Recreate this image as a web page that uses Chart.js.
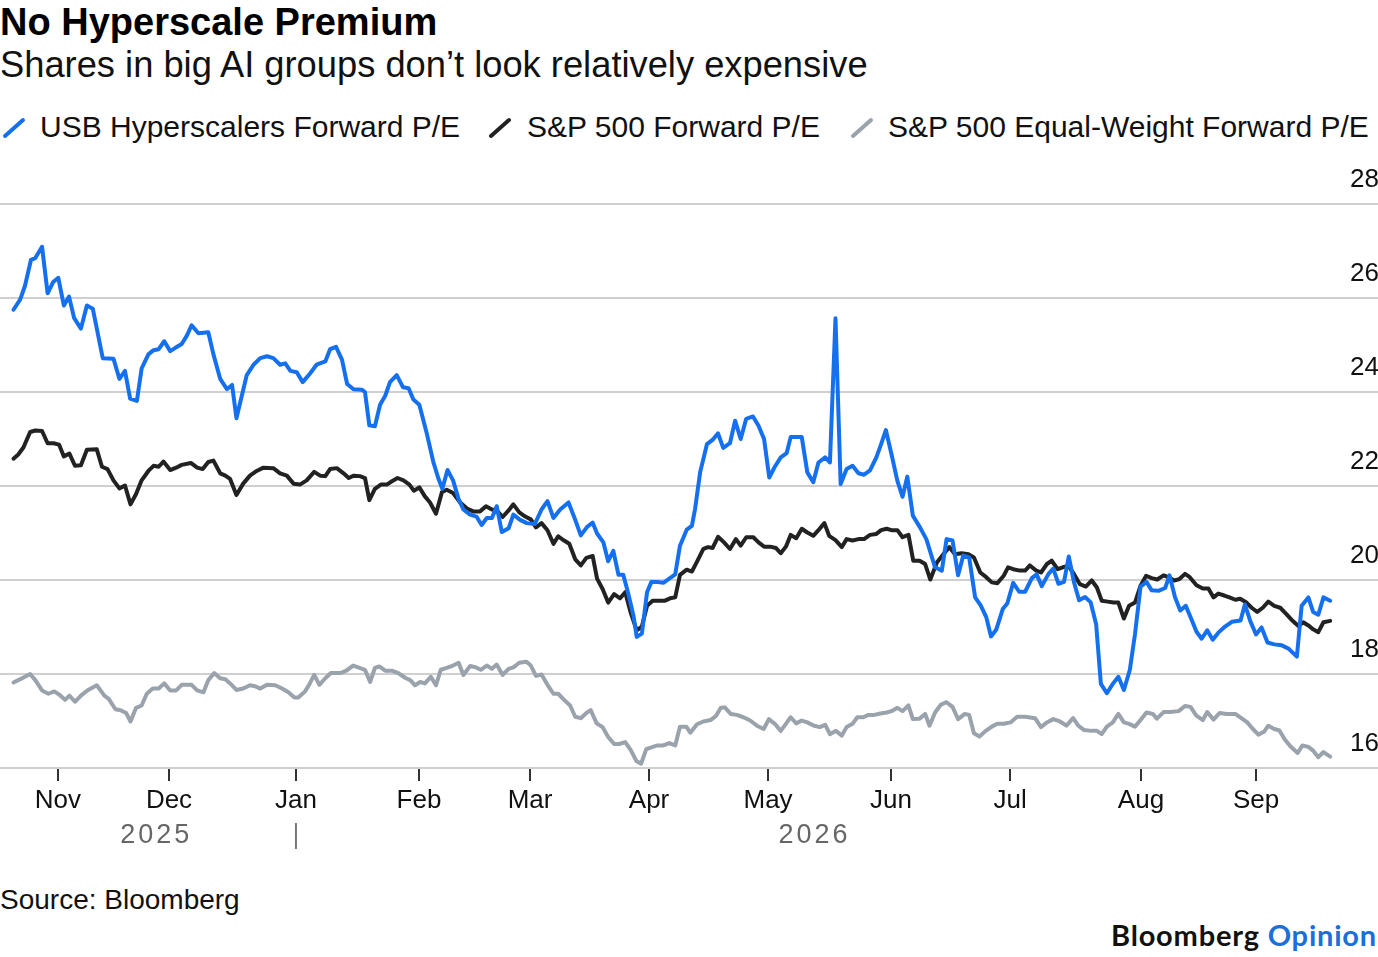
<!DOCTYPE html>
<html>
<head>
<meta charset="utf-8">
<script src="https://cdn.jsdelivr.net/npm/chart.js@4.4.1/dist/chart.umd.min.js"></script>
<style>
  html, body { margin: 0; padding: 0; background: #fff; }
  body { width: 1378px; height: 957px; position: relative; overflow: hidden; font-family: "Liberation Sans", Arial, sans-serif; color: #111; }
  .t { position: absolute; white-space: nowrap; }
  #title { left: 0; top: 3px; font-size: 38px; line-height: 38px; font-weight: 700; color: #000; }
  #subtitle { left: 0; top: 47px; font-size: 36.3px; line-height: 36px; color: #111; }
  .leg { position: absolute; top: 112px; font-size: 30px; line-height: 30px; color: #111; white-space: nowrap; }
  .icon { position: absolute; top: 117px; width: 24px; height: 22px; }
  #source { left: 0; top: 886px; font-size: 28px; line-height: 28px; color: #111; }
  #brand { right: 1px; top: 920px; font-family: Lato, "Liberation Sans", sans-serif; font-weight: 700; font-size: 29px; line-height: 29px; letter-spacing: 0.8px; color: #111; }
  #brand span { color: #1a6fdb; }
  canvas { position: absolute; left: 0; top: 0; }
</style>
</head>
<body>
<div id="title" class="t">No Hyperscale Premium</div>
<div id="subtitle" class="t">Shares in big AI groups don’t look relatively expensive</div>

<svg class="icon" style="left:2px" viewBox="0 0 24 22"><line x1="3" y1="19" x2="21" y2="3" stroke="#1570ef" stroke-width="4" stroke-linecap="round"/></svg>
<div class="leg" style="left:40px">USB Hyperscalers Forward P/E</div>
<svg class="icon" style="left:488px" viewBox="0 0 24 22"><line x1="3" y1="19" x2="21" y2="3" stroke="#222222" stroke-width="4" stroke-linecap="round"/></svg>
<div class="leg" style="left:527px">S&amp;P 500 Forward P/E</div>
<svg class="icon" style="left:850px" viewBox="0 0 24 22"><line x1="3" y1="19" x2="21" y2="3" stroke="#9aa2ac" stroke-width="4" stroke-linecap="round"/></svg>
<div class="leg" style="left:888px">S&amp;P 500 Equal-Weight Forward P/E</div>

<div id="source" class="t">Source: Bloomberg</div>
<div id="brand" class="t">Bloomberg <span>Opinion</span></div>

<canvas id="c" width="1378" height="957"></canvas>

<script>
// ---- Axis definitions (x = days since 1 Oct 2025; ticks at first trading day of each month) ----
const monthStarts = [33, 61, 93, 124, 152, 182, 212, 243, 273, 306, 335];
const monthLabels = ['Nov', 'Dec', 'Jan', 'Feb', 'Mar', 'Apr', 'May', 'Jun', 'Jul', 'Aug', 'Sep'];
const yearLabels = ['2025', '2026'];
const yearBreak = 93; // 2 Jan 2026, first trading day of the year
const yTickValues = [16, 18, 20, 22, 24, 26, 28];
const xRange = [18.4, 365.75];

// ---- USB Hyperscalers Forward P/E ----
const hyperDays = [21.8,23.5,24.7,26.2,27.3,29.0,30.4,31.8,33.1,34.5,35.8,37.1,38.8,40.3,41.8,44.3,47.0,48.5,49.9,51.2,
52.9,54.1,55.8,57.1,58.4,59.8,61.3,62.6,64.2,65.5,66.7,68.4,70.9,72.2,73.9,75.6,76.9,78.0,80.6,82.3,
84.0,85.7,87.3,89.0,90.3,91.6,93.2,94.7,96.5,98.2,100.4,101.6,103.1,104.6,105.9,107.5,109.6,110.4,111.5,112.9,
114.2,115.5,116.7,118.4,120.0,121.4,122.6,124.1,126.0,127.6,128.9,129.9,131.2,132.6,134.0,135.2,136.9,138.5,139.8,141.1,
142.4,143.6,144.9,146.6,147.8,149.5,151.2,153.2,154.9,156.4,157.9,159.6,161.7,163.4,164.8,166.4,167.8,168.9,170.5,171.7,
173.0,174.3,175.5,176.8,178.1,178.9,180.2,181.5,182.6,183.9,185.6,187.1,188.6,189.8,191.5,192.8,193.6,194.9,196.6,198.0,
199.4,200.7,202.4,203.7,205.1,206.5,208.2,209.6,211.0,212.3,213.7,215.2,216.7,217.7,220.5,221.9,223.4,224.7,226.4,227.6,
229.0,230.3,231.8,233.3,234.8,236.2,237.7,239.3,240.5,241.7,243.1,244.6,245.9,247.1,248.5,250.3,251.9,254.1,255.8,257.0,
258.5,259.9,261.2,262.7,264.2,265.6,267.0,268.2,269.5,271.2,272.3,273.8,275.3,276.8,278.5,279.7,281.0,282.7,283.9,285.2,
286.6,287.8,289.1,290.4,291.9,293.3,294.7,295.9,297.4,298.9,300.3,301.7,303.2,304.5,305.9,307.4,308.7,310.4,312.1,313.2,
314.6,315.9,317.3,318.8,320.0,321.3,322.7,324.1,325.5,327.2,328.9,331.1,332.2,333.5,335.0,336.4,337.9,339.6,341.5,343.2,
344.3,345.3,346.5,348.2,349.4,350.7,352.0,353.7];
const hyperPE = [25.75,25.97,26.26,26.81,26.85,27.09,26.10,26.34,26.43,25.84,26.03,25.57,25.35,25.84,25.77,24.72,24.71,24.28,24.45,23.86,
23.81,24.50,24.80,24.89,24.91,25.08,24.87,24.94,25.02,25.20,25.42,25.25,25.27,24.80,24.28,24.06,24.15,23.44,24.36,24.58,
24.72,24.76,24.72,24.58,24.61,24.45,24.42,24.21,24.39,24.58,24.65,24.91,24.96,24.69,24.17,24.06,24.05,24.00,23.29,23.27,
23.73,23.92,24.21,24.36,24.10,24.08,23.84,23.73,23.11,22.52,22.16,21.94,22.34,22.12,21.72,21.50,21.39,21.35,21.17,21.32,
21.32,21.57,21.02,21.10,21.39,21.28,21.21,21.19,21.50,21.68,21.32,21.50,21.65,21.28,20.95,21.13,21.22,20.99,20.80,20.40,
20.62,20.11,20.11,19.70,19.23,18.79,18.86,19.74,19.96,19.96,19.94,20.03,20.12,20.73,21.07,21.15,21.51,22.30,22.89,22.98,
23.12,22.81,22.91,23.39,23.00,23.43,23.48,23.28,23.00,22.18,22.41,22.61,22.70,23.04,23.04,22.29,22.08,22.50,22.61,22.50,
25.57,22.04,22.36,22.43,22.27,22.24,22.33,22.61,22.89,23.19,22.68,22.11,21.77,22.20,21.37,21.12,20.87,20.27,20.20,20.87,
20.84,20.10,20.52,20.48,19.63,19.46,19.21,18.80,18.94,19.39,19.50,19.94,19.75,19.75,20.04,20.12,19.87,20.13,20.24,19.92,
19.96,20.50,19.96,19.57,19.64,19.53,19.06,17.79,17.59,17.79,17.94,17.66,18.09,18.85,19.86,19.96,19.78,19.77,19.83,20.10,
19.63,19.35,19.45,19.15,18.90,18.75,18.93,18.73,18.88,19.01,19.11,19.14,19.48,19.14,18.84,18.99,18.67,18.63,18.61,18.54,
18.45,18.37,19.45,19.63,19.32,19.26,19.63,19.56];

// ---- S&P 500 Forward P/E ----
const spxDays = [21.8,23.0,24.3,26.0,27.3,29.0,30.4,31.9,33.3,34.5,35.9,37.3,38.8,40.3,42.8,44.1,45.5,47.0,48.5,49.9,
51.3,52.7,54.1,55.8,57.1,58.4,59.6,61.3,62.8,64.2,66.5,68.1,69.5,70.9,72.2,73.9,75.2,76.4,78.0,79.7,
81.4,83.1,84.8,87.3,89.0,90.7,92.4,94.0,95.7,97.6,99.1,100.4,101.6,103.3,105.0,106.3,107.6,109.1,110.4,111.5,
112.9,114.4,115.9,117.2,118.6,120.1,121.6,122.7,124.1,125.5,126.8,128.3,129.8,131.0,132.6,134.4,136.1,137.7,139.4,140.9,
142.4,143.6,145.1,146.6,147.8,149.3,150.8,152.2,153.5,154.9,156.4,157.9,159.1,160.6,161.9,163.4,164.8,166.2,167.8,168.9,
170.3,171.7,173.2,174.7,176.0,177.4,178.9,180.2,181.5,182.9,184.6,186.0,187.3,188.6,189.8,191.5,192.8,194.1,195.7,196.9,
198.0,199.4,200.9,202.4,203.9,205.1,206.5,208.3,209.6,211.0,212.5,214.0,215.2,216.5,217.7,219.1,220.5,221.9,223.4,224.7,
226.2,227.4,229.0,230.6,231.8,233.3,234.8,236.2,237.7,239.3,240.5,241.9,243.1,244.6,245.9,247.4,248.6,250.2,251.6,252.9,
254.6,256.2,257.7,259.1,260.8,262.5,263.9,265.5,267.0,268.4,269.8,271.4,272.5,273.8,275.5,276.8,278.0,279.6,280.8,282.3,
283.5,285.0,286.3,287.7,289.1,290.6,292.1,293.6,294.9,296.1,297.6,299.1,300.3,301.7,303.0,304.5,305.9,307.3,308.7,310.1,
311.7,312.9,314.4,315.7,317.1,318.3,320.0,321.6,323.0,324.3,325.5,327.0,328.3,329.8,331.0,332.6,333.9,335.3,336.7,338.1,
339.6,341.1,342.6,344.0,345.7,346.9,348.4,349.4,350.7,352.0,353.7];
const spxPE = [22.58,22.67,22.82,23.15,23.18,23.17,22.91,22.91,22.88,22.63,22.69,22.43,22.44,22.77,22.78,22.41,22.36,22.12,21.95,22.01,
21.61,21.83,22.12,22.32,22.43,22.41,22.52,22.34,22.39,22.45,22.49,22.39,22.36,22.51,22.54,22.27,22.22,22.15,21.81,22.05,
22.22,22.32,22.39,22.38,22.27,22.22,22.05,22.03,22.12,22.30,22.22,22.21,22.36,22.38,22.27,22.17,22.22,22.21,22.17,21.70,
21.94,22.03,22.03,22.10,22.17,22.12,22.03,21.90,21.97,21.78,21.65,21.41,21.87,21.92,21.85,21.65,21.52,21.46,21.46,21.57,
21.50,21.48,21.34,21.48,21.61,21.44,21.35,21.29,21.12,21.21,21.06,20.77,20.93,20.84,20.77,20.44,20.31,20.47,20.51,20.03,
19.81,19.52,19.70,19.61,19.74,19.30,18.93,19.01,19.45,19.56,19.56,19.56,19.61,19.63,20.11,20.22,20.18,20.39,20.66,20.70,
20.68,20.92,20.80,20.66,20.87,20.73,20.91,20.91,20.80,20.71,20.71,20.68,20.57,20.71,20.96,20.89,21.09,21.01,20.94,21.06,
21.21,20.94,20.85,20.70,20.87,20.84,20.87,20.87,20.96,20.98,21.06,21.09,21.06,21.06,20.91,20.96,20.41,20.41,20.34,20.01,
20.38,20.55,20.70,20.55,20.57,20.55,20.48,20.16,20.06,19.95,19.93,20.09,20.27,20.23,20.20,20.20,20.31,20.20,20.16,20.34,
20.41,20.23,20.27,20.30,20.13,19.91,19.86,19.99,19.84,19.56,19.54,19.52,19.52,19.18,19.45,19.52,19.88,20.09,20.04,20.01,
20.10,20.06,19.99,20.02,20.13,20.06,19.89,19.82,19.82,19.63,19.71,19.67,19.63,19.58,19.60,19.52,19.41,19.32,19.41,19.54,
19.45,19.41,19.28,19.15,19.02,19.10,19.02,18.95,18.89,19.10,19.13];

// ---- S&P 500 Equal-Weight Forward P/E ----
const eqwDays = [21.8,23.5,26.0,27.3,29.0,30.6,32.1,33.5,34.8,35.9,37.3,38.8,40.4,42.8,44.7,45.8,47.5,48.8,50.2,51.3,
52.7,54.1,55.4,56.9,58.4,59.8,61.3,62.8,64.2,66.7,68.1,69.7,70.9,72.4,73.9,75.2,76.4,78.0,79.7,81.4,
82.7,84.0,85.7,87.8,89.5,91.1,92.6,93.6,95.3,96.5,97.6,98.9,100.4,101.8,104.2,105.7,107.4,108.7,110.4,111.7,
112.9,114.0,115.5,117.2,118.8,120.5,121.8,123.0,124.3,125.5,127.0,128.3,129.5,131.0,132.6,134.0,135.2,136.9,138.4,139.6,
141.1,142.4,143.6,145.1,146.6,147.8,149.3,151.1,152.2,153.5,154.9,156.4,157.9,159.1,160.6,162.1,163.4,164.8,166.2,167.3,
168.8,170.3,171.7,173.2,174.5,176.0,177.4,178.8,180.0,181.3,182.6,184.1,185.6,187.1,188.6,189.8,191.4,192.4,194.1,195.7,
197.5,198.9,200.1,201.1,202.6,204.1,205.8,207.5,209.2,210.9,212.2,213.7,215.2,216.5,217.7,219.1,220.5,221.9,223.6,225.1,
226.4,227.6,229.1,230.6,231.8,233.3,234.5,236.0,237.3,238.8,240.3,241.9,243.1,244.6,245.9,247.4,248.5,250.2,251.6,252.7,
254.1,255.6,257.0,258.5,259.9,261.6,262.7,263.9,265.3,266.7,268.4,269.8,271.4,273.1,274.8,276.8,279.3,280.8,282.3,283.9,
285.6,287.2,288.9,290.2,291.6,293.6,294.9,296.1,297.4,298.9,300.3,301.7,303.0,304.5,305.9,307.4,309.0,310.0,311.7,313.4,
315.5,317.1,318.5,319.9,321.6,322.7,324.3,325.8,327.6,329.8,331.3,332.8,334.1,335.6,337.0,338.1,339.6,340.9,342.3,343.8,
345.5,346.7,348.2,349.4,350.7,352.0,353.7];
const eqwPE = [17.82,17.89,18.00,17.87,17.65,17.58,17.63,17.55,17.45,17.54,17.41,17.54,17.65,17.76,17.54,17.47,17.25,17.23,17.17,16.99,
17.28,17.33,17.58,17.69,17.69,17.80,17.65,17.65,17.77,17.77,17.65,17.61,17.87,18.02,17.91,17.89,17.80,17.66,17.69,17.76,
17.74,17.69,17.77,17.76,17.69,17.61,17.50,17.50,17.63,17.80,17.98,17.77,17.91,18.02,18.02,18.07,18.18,18.14,18.09,17.83,
18.13,18.16,18.07,18.07,18.02,17.92,17.87,17.76,17.83,17.80,17.94,17.76,18.09,18.13,18.18,18.24,17.98,18.17,18.14,18.09,
18.18,18.11,18.20,17.98,18.11,18.14,18.24,18.26,18.18,17.96,17.99,17.77,17.58,17.58,17.45,17.33,17.09,17.06,17.17,17.23,
16.95,16.87,16.66,16.51,16.51,16.55,16.38,16.15,16.09,16.40,16.44,16.48,16.48,16.53,16.48,16.88,16.88,16.75,16.93,16.99,
17.02,17.11,17.28,17.29,17.15,17.13,17.08,17.01,16.90,16.83,17.04,16.94,16.79,16.94,17.08,16.95,17.01,16.97,16.90,16.87,
16.92,16.72,16.79,16.69,16.87,16.94,17.08,17.08,17.13,17.13,17.16,17.18,17.21,17.28,17.21,17.33,17.04,17.05,17.15,16.90,
17.18,17.35,17.40,17.30,17.04,17.15,17.13,16.74,16.67,16.78,16.88,16.94,16.94,16.97,17.09,17.09,17.06,16.87,16.97,17.04,
16.99,16.90,17.06,16.90,16.81,16.79,16.79,16.72,16.88,16.97,17.15,16.97,16.94,16.88,17.02,17.18,17.15,17.05,17.19,17.19,
17.21,17.32,17.30,17.12,17.02,17.19,17.03,17.17,17.15,17.15,17.06,16.97,16.84,16.71,16.77,16.90,16.83,16.80,16.60,16.45,
16.32,16.48,16.45,16.37,16.23,16.34,16.24];

const seriesNames = ['USB Hyperscalers Forward P/E', 'S&P 500 Forward P/E', 'S&P 500 Equal-Weight Forward P/E'];
const seriesColors = ['#1570ef', '#222222', '#9aa2ac'];

const toPoints = (days, vals) => days.map((d, i) => ({ x: d, y: vals[i] }));

const FONT = '"Liberation Sans", Arial, sans-serif';

const yearPlugin = {
  id: 'yearLabels',
  afterDraw(chart) {
    const ctx = chart.ctx;
    const xs = chart.scales.x;
    const area = chart.chartArea;
    const allDays = hyperDays.concat(spxDays, eqwDays);
    const first = Math.min(...allDays), last = Math.max(...allDays);
    const pb = xs.getPixelForValue(yearBreak);
    const p0 = xs.getPixelForValue(first), p1 = xs.getPixelForValue(last);
    const base = area.bottom + 75;
    ctx.save();
    ctx.font = '27px ' + FONT;
    ctx.fillStyle = '#666666';
    ctx.textAlign = 'center';
    ctx.textBaseline = 'alphabetic';
    try { ctx.letterSpacing = '3px'; } catch (e) {}
    ctx.fillText(yearLabels[0], (p0 + pb) / 2 + 1.5, base);
    ctx.fillText(yearLabels[1], (pb + p1) / 2 + 1.5, base);
    ctx.strokeStyle = '#777777';
    ctx.lineWidth = 2;
    ctx.beginPath();
    ctx.moveTo(pb, area.bottom + 55);
    ctx.lineTo(pb, area.bottom + 81);
    ctx.stroke();
    ctx.restore();
  }
};

new Chart(document.getElementById('c'), {
  type: 'line',
  data: {
    datasets: [
      { label: seriesNames[0], data: toPoints(hyperDays, hyperPE), borderColor: seriesColors[0] },
      { label: seriesNames[1], data: toPoints(spxDays, spxPE), borderColor: seriesColors[1] },
      { label: seriesNames[2], data: toPoints(eqwDays, eqwPE), borderColor: seriesColors[2] }
    ]
  },
  options: {
    responsive: false,
    animation: false,
    devicePixelRatio: 1,
    layout: { padding: { top: 204, left: 0, right: 0, bottom: 0 } },
    elements: {
      line: { borderWidth: 4, tension: 0, borderJoinStyle: 'round', borderCapStyle: 'round', fill: false },
      point: { radius: 0, hoverRadius: 0 }
    },
    plugins: { legend: { display: false }, tooltip: { enabled: false }, title: { display: false } },
    scales: {
      x: {
        type: 'linear',
        min: xRange[0],
        max: xRange[1],
        afterBuildTicks: (scale) => { scale.ticks = monthStarts.map(v => ({ value: v })); },
        afterFit: (scale) => { scale.height = 957 - 768; },
        ticks: {
          autoSkip: false, maxRotation: 0, minRotation: 0, padding: 4,
          color: '#111111', font: { family: FONT, size: 26 },
          callback: (v) => { const i = monthStarts.indexOf(v); return i >= 0 ? monthLabels[i] : ''; }
        },
        grid: { drawOnChartArea: false, drawTicks: true, tickLength: 13, color: '#333333', lineWidth: 2 },
        border: { display: false }
      },
      y: {
        position: 'right',
        min: 16,
        max: 28,
        afterBuildTicks: (scale) => { scale.ticks = yTickValues.map(v => ({ value: v })); },
        afterFit: (scale) => { scale.width = 0; },
        ticks: {
          mirror: true, padding: 1, labelOffset: -24,
          color: '#111111', font: { family: FONT, size: 26 },
          callback: (v) => String(v)
        },
        grid: { drawTicks: false, color: '#cfcfcf', lineWidth: 2 },
        border: { display: false }
      }
    }
  },
  plugins: [yearPlugin]
});
</script>
</body>
</html>
